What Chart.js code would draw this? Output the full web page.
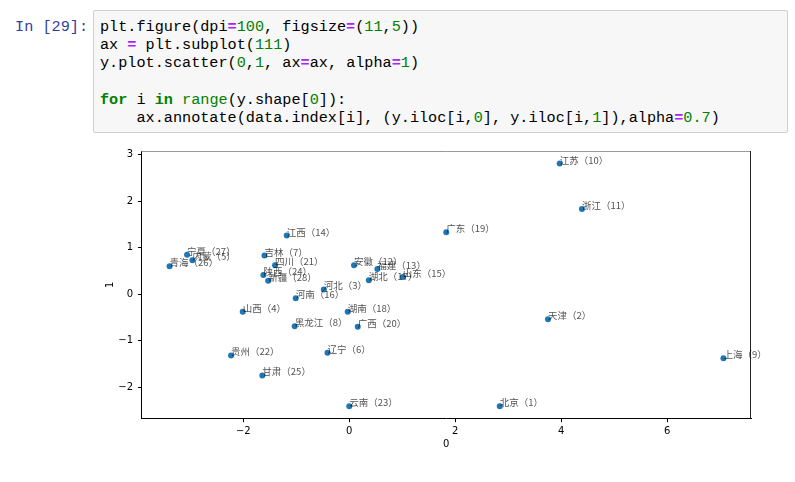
<!DOCTYPE html>
<html>
<head>
<meta charset="utf-8">
<script src="https://cdn.jsdelivr.net/npm/chart.js@4.4.1/dist/chart.umd.min.js"></script>
<style>
  html, body { margin: 0; padding: 0; background: #fff; width: 795px; height: 482px; overflow: hidden; }
  .prompt { position: absolute; left: 0; top: 17.85px; width: 88px; text-align: right;
    font-family: "Liberation Mono", monospace; font-size: 15.2px; line-height: 18.3px; color: #303F9F; white-space: pre; }
  .cell { position: absolute; left: 93px; top: 10px; width: 693px; height: 121px;
    border: 1px solid #cfcfcf; background: #f7f7f7; border-radius: 2px; }
  .cell pre { margin: 0; padding: 6.85px 0 0 6px; font-family: "Liberation Mono", monospace;
    font-size: 15.2px; line-height: 18.3px; color: #000; }
  .op { color: #AA22FF; font-weight: bold; }
  .nu { color: #008000; }
  .kw { color: #008000; font-weight: bold; }
  .bi { color: #008000; }
  #wrap { position: absolute; left: 0; top: 140px; width: 795px; height: 342px; }
</style>
</head>
<body>
<div class="prompt">In [29]:</div>
<div class="cell"><pre>plt.figure(dpi<span class="op">=</span><span class="nu">100</span>, figsize<span class="op">=</span>(<span class="nu">11</span>,<span class="nu">5</span>))
ax <span class="op">=</span> plt.subplot(<span class="nu">111</span>)
y.plot.scatter(<span class="nu">0</span>,<span class="nu">1</span>, ax<span class="op">=</span>ax, alpha<span class="op">=</span><span class="nu">1</span>)

<span class="kw">for</span> i <span class="kw">in</span> <span class="bi">range</span>(y.shape[<span class="nu">0</span>]):
    ax.annotate(data.index[i], (y.iloc[i,<span class="nu">0</span>], y.iloc[i,<span class="nu">1</span>]),alpha<span class="op">=</span><span class="nu">0.7</span>)</pre></div>
<div id="wrap"><canvas id="c" width="795" height="342"></canvas></div>
<script>
const provinceNames = ['北京','天津','河北','山西','内蒙','辽宁','吉林','黑龙江','上海','江苏','浙江','安徽','福建','江西','山东','河南','湖北','湖南','广东','广西','四川','贵州','云南','陕西','甘肃','青海','宁夏','新疆'];
const provinceIds = [1,2,3,4,5,6,7,8,9,10,11,12,13,14,15,16,17,18,19,20,21,22,23,24,25,26,27,28];
const comp0 = [2.84,3.75,-0.48,-2.01,-2.96,-0.41,-1.60,-1.03,7.06,3.97,4.39,0.09,0.53,-1.18,1.01,-1.01,0.37,-0.03,1.83,0.16,-1.40,-2.23,0.00,-1.62,-1.64,-3.39,-3.06,-1.53];
const comp1 = [-2.41,-0.54,0.10,-0.38,0.73,-1.26,0.83,-0.69,-1.38,2.81,1.83,0.62,0.54,1.26,0.37,-0.09,0.30,-0.38,1.33,-0.70,0.62,-1.32,-2.41,0.41,-1.75,0.60,0.85,0.29];
const xTicks = [-2,0,2,4,6];
const yTicks = [-2,-1,0,1,2,3];
const xTitle = '0';
const yTitle = '1';

const points = comp0.map((v, i) => ({x: v, y: comp1[i]}));
const fmt = v => String(v).replace('-', '\u2212');

const frame = {
  id: 'frame',
  afterDatasetsDraw(chart) {
    const {ctx, chartArea: a} = chart;
    ctx.save();
    ctx.lineWidth = 1;
    ctx.strokeStyle = '#999';
    ctx.beginPath(); ctx.moveTo(a.left, a.top + 0.5); ctx.lineTo(a.right, a.top + 0.5); ctx.stroke();
    ctx.strokeStyle = '#222';
    ctx.beginPath(); ctx.moveTo(a.right - 0.5, a.top); ctx.lineTo(a.right - 0.5, a.bottom); ctx.stroke();
    ctx.restore();
  }
};

const annot = {
  id: 'annot',
  afterDatasetsDraw(chart) {
    const {ctx} = chart;
    const xs = chart.scales.x, ys = chart.scales.y;
    ctx.save();
    ctx.font = '9.5px "Noto Sans CJK SC", sans-serif';
    ctx.fillStyle = 'rgba(0,0,0,0.7)';
    ctx.textAlign = 'left';
    ctx.textBaseline = 'alphabetic';
    provinceNames.forEach((n, i) => {
      const px = xs.getPixelForValue(comp0[i]);
      const py = ys.getPixelForValue(comp1[i]);
      ctx.fillText(n + '\uff08' + provinceIds[i] + '\uff09', px, py);
    });
    ctx.restore();
  }
};

new Chart(document.getElementById('c'), {
  type: 'scatter',
  data: { datasets: [{ data: points, backgroundColor: '#1f77b4', borderColor: '#1f77b4', pointRadius: 3, borderWidth: 0 }] },
  options: {
    responsive: false,
    animation: false,
    events: [],
    layout: { padding: { left: 0, right: 44, top: 9, bottom: 0 } },
    plugins: { legend: { display: false }, tooltip: { enabled: false } },
    scales: {
      x: {
        type: 'linear', min: -3.92, max: 7.58,
        afterBuildTicks: s => { s.ticks = xTicks.map(v => ({value: v})); },
        afterFit: s => { s.height = 63.3; },
        ticks: { callback: v => fmt(v), color: '#000', font: { family: 'DejaVu Sans', size: 10 }, padding: 3, maxRotation: 0 },
        grid: { drawOnChartArea: false, drawTicks: true, tickLength: 3.5, color: '#000', tickColor: '#000' },
        border: { display: true, color: '#000', width: 1 },
        title: { display: true, text: xTitle, color: '#000', font: { family: 'DejaVu Sans', size: 10 }, padding: { top: 0, bottom: 32 } }
      },
      y: {
        type: 'linear', min: -2.68, max: 3.08,
        afterBuildTicks: s => { s.ticks = yTicks.map(v => ({value: v})); },
        afterFit: s => { s.width = 141.5; },
        ticks: { callback: v => fmt(v), color: '#000', font: { family: 'DejaVu Sans', size: 10 }, padding: 5 },
        grid: { drawOnChartArea: false, drawTicks: true, tickLength: 3.5, color: '#000', tickColor: '#000' },
        border: { display: true, color: '#000', width: 1 },
        title: { display: true, text: yTitle, color: '#000', font: { family: 'DejaVu Sans', size: 10 }, padding: { top: 104, bottom: 0 } }
      }
    }
  },
  plugins: [frame, annot]
});
</script>
</body>
</html>
